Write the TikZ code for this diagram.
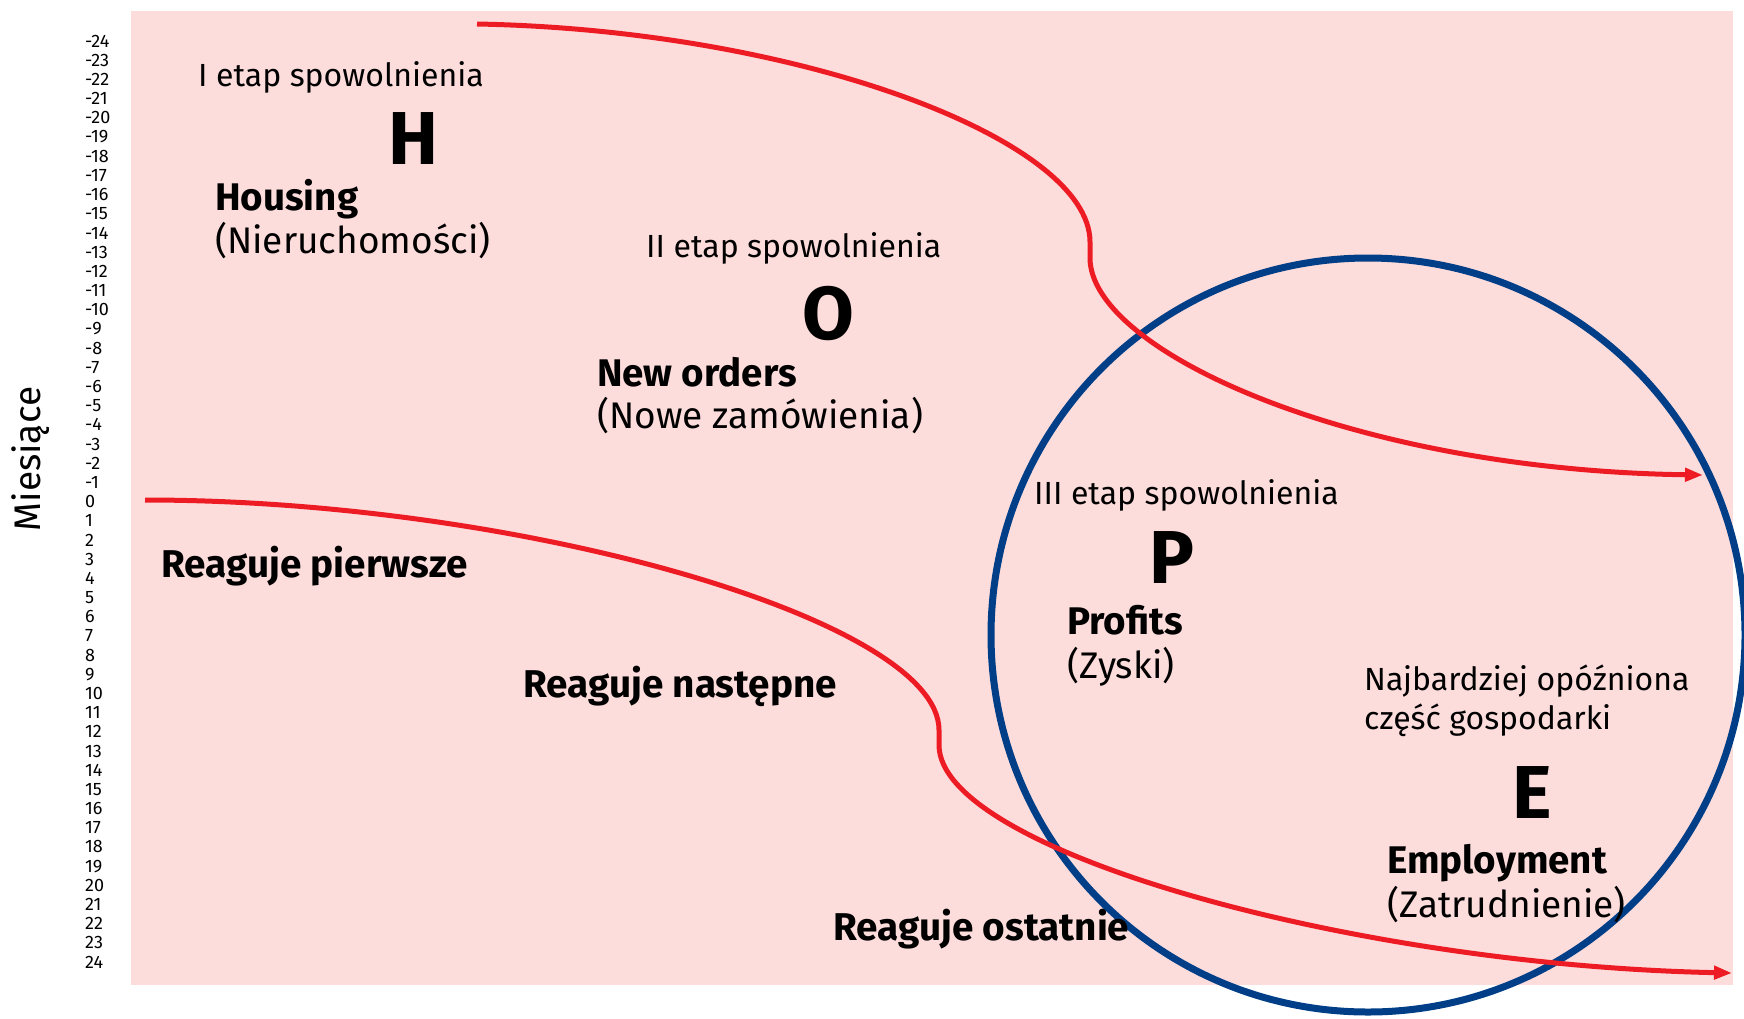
\documentclass[tikz,border=0pt]{standalone}
\usepackage{fontspec}
\setmainfont{Fira Sans}
\usetikzlibrary{positioning,arrows.meta}
\definecolor{tlo}{RGB}{253,220,220}
\definecolor{czerw}{RGB}{237,28,36}
\definecolor{nieb}{RGB}{0,63,135}

\begin{document}
\begin{tikzpicture}[x=1pt, y=-1pt, >={Triangle[length=18pt,width=13pt]},
    etap/.style={anchor=base west, inner sep=0pt, font=\fontsize{32}{38}\selectfont},
    litera/.style={anchor=base, inner sep=0pt, font=\fontsize{75}{80}\selectfont\bfseries},
    nazwa/.style={anchor=base west, inner sep=0pt, font=\fontsize{38.5}{44}\selectfont\bfseries},
    opis/.style={anchor=base west, inner sep=0pt, font=\fontsize{37}{44}\selectfont},
    reakcja/.style={anchor=base west, inner sep=0pt, font=\fontsize{38.7}{44}\selectfont\bfseries},
    os/.style={anchor=west, inner sep=0pt, font=\fontsize{18}{20}\selectfont},
    krzywa/.style={czerw, line width=5pt, ->}]
    \useasboundingbox (0,0) rectangle (1744,1018);
    \fill[tlo] (131,11) rectangle (1733,985);

    % os miesiecy
    \node[rotate=90, inner sep=0pt, font=\fontsize{37}{42}\selectfont] (miesiace) at (31,459) {Miesiące};
    \foreach \m in {-24,...,24}
        \node[os] (m\m) at (85,{41+(\m+24)*19.19}) {\m};

    \draw[nieb, line width=7pt] (1368,635) circle [radius=377];

    \coordinate (g0) at (477,24);
    \coordinate (g1) at (1703,475);
    \coordinate (d0) at (145,500);
    \coordinate (d1) at (1732,973);
    \draw[krzywa] (g0) .. controls (800,30) and (1090,140) .. (1090,242) -- (1090,258)
        .. controls (1090,350) and (1350,470) .. (g1);
    \draw[krzywa] (d0) .. controls (520,500) and (939,620) .. (939,730) -- (939,745)
        .. controls (939,850) and (1350,965) .. (d1);

    \node[etap] (etap1) at (198,86) {I etap spowolnienia};
    \node[litera] (h) at (413,164) {H};
    \node[nazwa] (housing) at (215,210) {Housing};
    \node[opis, below=43pt of housing.base west, anchor=base west] (nieruch) {(Nieruchomości)};

    \node[etap] (etap2) at (646,257) {II etap spowolnienia};
    \node[litera] (o) at (828,339) {O};
    \node[nazwa] (orders) at (597,386) {New orders};
    \node[opis, below=42pt of orders.base west, anchor=base west] (zamow) {(Nowe zamówienia)};

    \node[etap] (etap3) at (1034,504) {III etap spowolnienia};
    \node[litera] (p) at (1172,583) {P};
    \node[nazwa] (profits) at (1067,634) {Profits};
    \node[opis, below=44pt of profits.base west, anchor=base west] (zyski) {(Zyski)};

    \node[etap] (opozn) at (1364,690) {Najbardziej opóźniona};
    \node[etap, below=39pt of opozn.base west, anchor=base west] (czesc) {część gospodarki};
    \node[litera] (e) at (1532,818) {E};
    \node[nazwa] (employ) at (1387,873) {Employment};
    \node[opis, below=44pt of employ.base west, anchor=base west] (zatrud) {(Zatrudnienie)};

    \node[reakcja] (pierwsze) at (161,577) {Reaguje pierwsze};
    \node[reakcja] (nastepne) at (523,697) {Reaguje następne};
    \node[reakcja] (ostatnie) at (833,940) {Reaguje ostatnie};
\end{tikzpicture}
\end{document}
